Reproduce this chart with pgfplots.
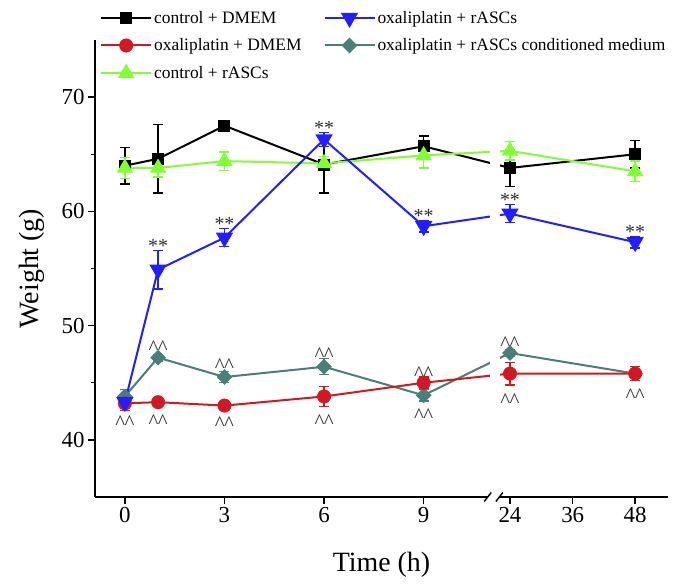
\documentclass[border=0pt]{standalone}
\usepackage{fontspec}
\setmainfont{Liberation Serif}
\usepackage{pgfplots}
\pgfplotsset{compat=1.18}
\definecolor{cRed}{RGB}{210,25,35}
\definecolor{cGreen}{RGB}{128,255,51}
\definecolor{cBlue}{RGB}{35,30,255}
\definecolor{cTeal}{RGB}{74,126,120}
\definecolor{cAnn}{RGB}{45,45,45}
\tikzset{
  ast/.style={font=\fontsize{20}{20}\selectfont, text=cAnn, inner sep=0pt, yshift=-2.6bp},
  car/.style={font=\fontsize{21}{21}\selectfont, text=cAnn, inner sep=0pt, yshift=-3.1bp},
}
\newcommand{\cc}{\textasciicircum\kern-0.5bp\textasciicircum}
\begin{document}
\begin{tikzpicture}
\useasboundingbox (0,0) rectangle (675bp,585bp);
\begin{axis}[
  at={(95bp,88bp)}, anchor=south west,
  scale only axis, width=573bp, height=457bp,
  xmin=-0.9, xmax=16.36, ymin=35, ymax=75,
  axis x line=bottom, axis y line=left,
  axis line style={-, line width=1.6bp},
  xtick={0,3,6,9,11.6,13.49,15.37}, xticklabels={0,3,6,9,24,36,48},
  ytick={40,50,60,70}, minor ytick={45,55,65},
  tick align=outside, major tick length=7bp, minor tick length=4bp,
  tick style={line width=1.4bp, black},
  ticklabel style={font=\fontsize{23}{27}\selectfont},
  /pgf/number format/assume math mode=true,
  xlabel={Time (h)}, ylabel={Weight (g)},
  label style={font=\fontsize{28}{32}\selectfont},
  xlabel style={at={(axis description cs:0.5,-0.149)}, anchor=center},
  ylabel style={at={(axis description cs:-0.11,0.5)}, anchor=center},
  clip=false,
  legend columns=2,
  legend cell align=left,
  legend image code/.code={
    \draw[mark repeat=2,mark phase=2,#1] plot coordinates {(0bp,0bp) (25bp,0bp) (50bp,0bp)};
  },
  legend style={at={(axis description cs:0.0087,1.068)}, anchor=north west,
    draw=none, fill=none, inner sep=0pt,
    font=\fontsize{17.5}{21}\selectfont, row sep=10bp,
    /tikz/every even column/.append style={column sep=20bp},
    /tikz/every odd column/.append style={column sep=0bp}},
  every axis plot/.append style={line width=2bp},
  error bars/y dir=both, error bars/y explicit,
  error bars/error bar style={line width=1.3bp, solid},
  error bars/error mark options={line width=1.3bp, mark size=5bp, rotate=90},
  after end axis/.code={
    \fill[white] (axis cs:10.99,40) rectangle (axis cs:11.3,68.5);
    \fill[white] ([yshift=-2bp]axis cs:10.93,35) rectangle ([yshift=2bp]axis cs:11.28,35);
    \draw[line width=1.4bp] ([xshift=-3.5bp,yshift=-4.5bp]axis cs:10.93,35) -- ([xshift=3.5bp,yshift=4.5bp]axis cs:10.93,35);
    \draw[line width=1.4bp] ([xshift=-3.5bp,yshift=-4.5bp]axis cs:11.28,35) -- ([xshift=3.5bp,yshift=4.5bp]axis cs:11.28,35);
  },
]
% legend entries (row-wise order)
\addlegendimage{black, line width=2bp, mark=square*, mark size=5bp}
\addlegendentry{control + DMEM}
\addlegendimage{cBlue, line width=2bp, mark=triangle*, mark size=8bp, mark options={rotate=180}}
\addlegendentry{oxaliplatin + rASCs}
\addlegendimage{cRed, line width=2bp, mark=*, mark size=6bp}
\addlegendentry{oxaliplatin + DMEM}
\addlegendimage{cTeal, line width=2bp, mark=square*, mark size=4.6bp, mark options={rotate=45}}
\addlegendentry{oxaliplatin + rASCs conditioned medium}
\addlegendimage{cGreen, line width=2bp, mark=triangle*, mark size=7.5bp}
\addlegendentry{control + rASCs}

% control + DMEM
\addplot[black, mark=square*, mark size=5bp, forget plot] coordinates {
(0,64.0) +- (0,1.6)
(1,64.6) +- (0,3.0)
(3,67.5) +- (0,0.3)
(6,64.1) +- (0,2.5)
(9,65.7) +- (0,0.9)
(11.6,63.8) +- (0,1.6)
(15.37,65.0) +- (0,1.2)
};
% control + rASCs
\addplot[cGreen, mark=triangle*, mark size=7.5bp, forget plot] coordinates {
(0,63.8) +- (0,0.9)
(1,63.8) +- (0,0.8)
(3,64.4) +- (0,0.8)
(6,64.2) +- (0,0.6)
(9,64.9) +- (0,1.1)
(11.6,65.3) +- (0,0.8)
(15.37,63.5) +- (0,0.9)
};
% oxaliplatin + rASCs conditioned medium
\addplot[cTeal, mark=square*, mark size=4.6bp, mark options={rotate=45}, forget plot] coordinates {
(0,43.8) +- (0,0.6)
(1,47.2) +- (0,0.3)
(3,45.5) +- (0,0.5)
(6,46.4) +- (0,0.7)
(9,43.9) +- (0,0.5)
(11.6,47.6) +- (0,0.3)
(15.37,45.8) +- (0,0.3)
};
% oxaliplatin + DMEM
\addplot[cRed, mark=*, mark size=6bp, forget plot] coordinates {
(0,43.2) +- (0,0.6)
(1,43.3) +- (0,0.3)
(3,43.0) +- (0,0.3)
(6,43.8) +- (0,0.9)
(9,45.0) +- (0,0.5)
(11.6,45.8) +- (0,1.0)
(15.37,45.8) +- (0,0.6)
};
% oxaliplatin + rASCs
\addplot[cBlue, mark=triangle*, mark size=8bp, mark options={rotate=180}, forget plot] coordinates {
(0,43.3) +- (0,0.5)
(1,54.9) +- (0,1.7)
(3,57.7) +- (0,0.8)
(6,66.3) +- (0,0.6)
(9,58.7) +- (0,0.5)
(11.6,59.8) +- (0,0.8)
(15.37,57.3) +- (0,0.5)
};

% significance marks
\node[ast] at (axis cs:1,57.2) {**};
\node[ast] at (axis cs:3,59.1) {**};
\node[ast] at (axis cs:6,67.5) {**};
\node[ast] at (axis cs:9,59.8) {**};
\node[ast] at (axis cs:11.6,61.2) {**};
\node[ast] at (axis cs:15.37,58.4) {**};

\node[car] at (axis cs:0,41.8) {\cc};
\node[car] at (axis cs:1,48.3) {\cc};
\node[car] at (axis cs:1,41.9) {\cc};
\node[car] at (axis cs:3,46.8) {\cc};
\node[car] at (axis cs:3,41.7) {\cc};
\node[car] at (axis cs:6,47.7) {\cc};
\node[car] at (axis cs:6,41.9) {\cc};
\node[car] at (axis cs:9,46.1) {\cc};
\node[car] at (axis cs:9,42.4) {\cc};
\node[car] at (axis cs:11.6,48.7) {\cc};
\node[car] at (axis cs:11.6,43.7) {\cc};
\node[car] at (axis cs:15.37,44.1) {\cc};
\end{axis}
\end{tikzpicture}
\end{document}
